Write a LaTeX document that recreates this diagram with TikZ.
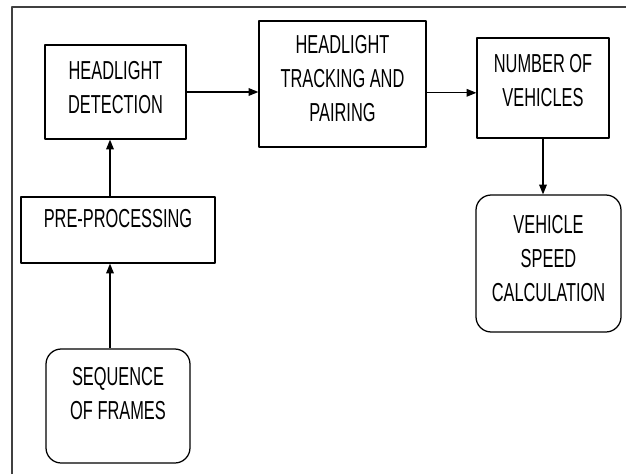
\documentclass[tikz,border=0pt]{standalone}
\usepackage{fontspec}
\setmainfont{Liberation Sans}[FakeStretch=0.63]
\usepackage{tikz}
\usetikzlibrary{arrows.meta,positioning}

\begin{document}
\begin{tikzpicture}[line join = round,
    block/.style={draw, line width=0.9pt, align=center, inner sep=0pt,
      font=\fontsize{18.5}{24.2}\selectfont},
    rblock/.style={block, rounded corners=0.38cm},
    flow/.style={line width=0.8pt, -{Triangle[length=7pt,width=5.5pt]}}]

                  \useasboundingbox (0,0) rectangle (15.65,11.85);

                  % frame
                  \draw [line width=1pt, black!75] (0.3,0) -- (0.3,11.675) -- (15.65,11.675);

                  % blocks
                  \node [block, minimum width=3.525cm, minimum height=2.35cm, text depth=0.23cm] (detect) at (2.8875,9.55) {HEADLIGHT\\DETECTION};
                  \node [block, minimum width=4.175cm, minimum height=3.15cm, text depth=0.3cm] (track) at (8.5625,9.75) {HEADLIGHT\\TRACKING AND\\PAIRING};
                  \node [block, minimum width=3.3cm, minimum height=2.5cm, text depth=0.37cm] (count) at (13.575,9.65) {NUMBER OF\\VEHICLES};
                  \node [rblock, minimum width=3.625cm, minimum height=3.425cm, text depth=0.24cm] (speed) at (13.7125,5.2625) {VEHICLE\\SPEED\\CALCULATION};
                  \node [block, minimum width=4.85cm, minimum height=1.65cm, text depth=0.57cm] (prep) at (2.95,6.1) {PRE-PROCESSING};
                  \node [rblock, minimum width=3.6cm, minimum height=2.85cm, text depth=0.61cm] (frames) at (2.95,1.7) {SEQUENCE\\OF FRAMES};

                  % arrows
                  \draw [flow] ([xshift=-0.2cm]frames.north) -- ([xshift=-0.2cm]frames.north |- prep.south);
                  \draw [flow] ([xshift=-0.2cm]prep.north) -- ([xshift=-0.2cm]prep.north |- detect.south);
                  \draw [flow] (detect.east) -- (detect.east -| track.west);
                  \draw [flow] ([yshift=-0.12cm]count.west -| track.east) -- ([yshift=-0.12cm]count.west);
                  \draw [flow] (count.south) -- (count.south |- speed.north);

\end{tikzpicture}
\end{document}
